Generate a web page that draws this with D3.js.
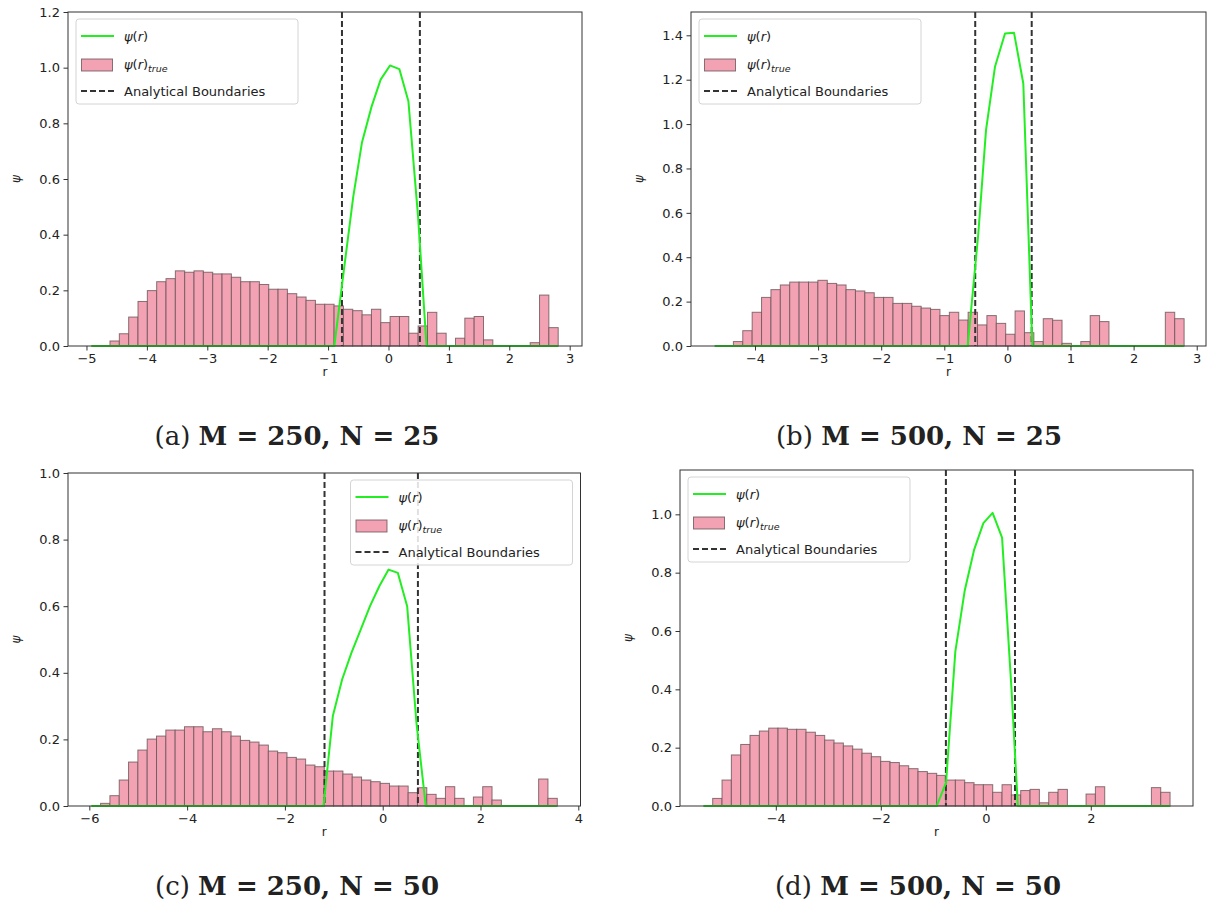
<!DOCTYPE html>
<html>
<head>
<meta charset="utf-8">
<script src="https://cdnjs.cloudflare.com/ajax/libs/d3/7.8.5/d3.min.js"></script>
<style>
  body { margin: 0; background: #fff; }
  svg text { font-family: "DejaVu Sans", sans-serif; fill: #222; }
</style>
</head>
<body>
<div id="figure"></div>
<script>
// ---------- data ----------
// histogram: 50 equal bins over histRange, heights in psi units
const histRangeA = [-4.92, 2.81];
const histA = [0, 0, 0.018, 0.044, 0.104, 0.16, 0.199, 0.231, 0.242, 0.27,
  0.265, 0.27, 0.265, 0.259, 0.259, 0.247, 0.231, 0.231, 0.221, 0.204,
  0.204, 0.188, 0.176, 0.164, 0.15, 0.15, 0.144, 0.132, 0.127, 0.112,
  0.132, 0.084, 0.106, 0.106, 0.046, 0.072, 0.121, 0.046, 0, 0.028,
  0.1, 0.106, 0.022, 0, 0, 0, 0, 0.012, 0.183, 0.066];
const lineRA = [-4.92, -0.897, -0.74, -0.583, -0.44, -0.28, -0.13, 0.025, 0.18, 0.33, 0.49, 0.63, 2.81];
const linePsiA = [0, 0, 0.27, 0.537, 0.73, 0.86, 0.957, 1.008, 0.995, 0.879, 0.465, 0, 0];
const boundsA = [-0.77, 0.52];

const histRangeB = [-4.64, 2.8];
const histB = [0, 0, 0.02, 0.069, 0.152, 0.219, 0.254, 0.275, 0.288, 0.288,
  0.288, 0.296, 0.282, 0.275, 0.254, 0.248, 0.24, 0.219, 0.219, 0.192,
  0.192, 0.179, 0.171, 0.165, 0.137, 0.152, 0.117, 0.152, 0.095, 0.137,
  0.102, 0.053, 0.158, 0.06, 0.02, 0.123, 0.116, 0.012, 0, 0.02,
  0.137, 0.11, 0, 0, 0, 0, 0, 0, 0.152, 0.123];
const lineRB = [-4.64, -0.629, -0.461, -0.339, -0.197, -0.038, 0.105, 0.252, 0.395, 2.8];
const linePsiB = [0, 0, 0.507, 0.973, 1.258, 1.408, 1.411, 1.183, 0, 0];
const boundsB = [-0.51, 0.385];

const histRangeC = [-5.96, 3.57];
const histC = [0, 0.008, 0.031, 0.078, 0.132, 0.168, 0.201, 0.21, 0.228, 0.228,
  0.238, 0.238, 0.223, 0.232, 0.223, 0.21, 0.197, 0.192, 0.183, 0.165,
  0.16, 0.146, 0.141, 0.123, 0.118, 0.105, 0.105, 0.096, 0.087, 0.078,
  0.073, 0.068, 0.06, 0.06, 0.04, 0.055, 0.035, 0.023, 0.058, 0.023,
  0, 0.027, 0.058, 0.018, 0, 0, 0, 0, 0.081, 0.023];
const lineRC = [-5.96, -1.21, -1.02, -0.83, -0.64, -0.45, -0.26, -0.07, 0.12, 0.31, 0.5, 0.69, 0.88, 3.57];
const linePsiC = [0, 0, 0.27, 0.38, 0.46, 0.53, 0.6, 0.66, 0.71, 0.7, 0.6, 0.25, 0, 0];
const boundsC = [-1.19, 0.72];

const histRangeD = [-5.38, 3.51];
const histD = [0, 0.026, 0.089, 0.175, 0.211, 0.242, 0.257, 0.267, 0.267, 0.263,
  0.263, 0.253, 0.242, 0.226, 0.216, 0.206, 0.195, 0.181, 0.169, 0.153,
  0.149, 0.138, 0.128, 0.118, 0.112, 0.105, 0.089, 0.089, 0.08, 0.073,
  0.073, 0.047, 0.073, 0.038, 0.053, 0.057, 0.011, 0.047, 0.057, 0,
  0, 0.041, 0.066, 0, 0, 0, 0, 0, 0.063, 0.047];
const lineRD = [-5.38, -0.935, -0.757, -0.58, -0.4, -0.22, -0.046, 0.13, 0.31, 0.49, 0.61, 3.51];
const linePsiD = [0, 0, 0.08, 0.53, 0.74, 0.88, 0.97, 1.005, 0.92, 0.4, 0, 0];
const boundsD = [-0.76, 0.556];

const xTicksA = [-5, -4, -3, -2, -1, 0, 1, 2, 3];
const yTicksA = [0, 0.2, 0.4, 0.6, 0.8, 1.0, 1.2];
const xTicksB = [-4, -3, -2, -1, 0, 1, 2, 3];
const yTicksB = [0, 0.2, 0.4, 0.6, 0.8, 1.0, 1.2, 1.4];
const xTicksC = [-6, -4, -2, 0, 2, 4];
const yTicksC = [0, 0.2, 0.4, 0.6, 0.8, 1.0];
const xTicksD = [-4, -2, 0, 2];
const yTicksD = [0, 0.2, 0.4, 0.6, 0.8, 1.0];

const captionTags = ["(a)", "(b)", "(c)", "(d)"];
const captionBold = ["M = 250, N = 25", "M = 500, N = 25", "M = 250, N = 50", "M = 500, N = 50"];

// ---------- layout ----------
const panels = [
  { hist: histA, histRange: histRangeA, lineR: lineRA, linePsi: linePsiA, bounds: boundsA,
    xTicks: xTicksA, yTicks: yTicksA, xDomain: [-5.306, 3.204], yDomain: [0, 1.2],
    left: 68, right: 582, top: 12, bottom: 346, legend: "left", capX: 297, capY: 445 },
  { hist: histB, histRange: histRangeB, lineR: lineRB, linePsi: linePsiB, bounds: boundsB,
    xTicks: xTicksB, yTicks: yTicksB, xDomain: [-5.014, 3.147], yDomain: [0, 1.505],
    left: 691, right: 1206, top: 12, bottom: 346, legend: "left", capX: 919, capY: 445 },
  { hist: histC, histRange: histRangeC, lineR: lineRC, linePsi: linePsiC, bounds: boundsC,
    xTicks: xTicksC, yTicks: yTicksC, xDomain: [-6.436, 4.045], yDomain: [0, 1.0],
    left: 68, right: 580.5, top: 473, bottom: 806, legend: "right", capX: 297, capY: 895 },
  { hist: histD, histRange: histRangeD, lineR: lineRD, linePsi: linePsiD, bounds: boundsD,
    xTicks: xTicksD, yTicks: yTicksD, xDomain: [-5.825, 3.947], yDomain: [0, 1.152],
    left: 680, right: 1193, top: 470, bottom: 806, legend: "left", capX: 918, capY: 895 },
];

const barFill = "#f2a2b2";
const barEdge = "#6a5458";
const green = "#22ee22";
const dashCol = "#333333";

const svg = d3.select("#figure").append("svg")
  .attr("width", 1218).attr("height", 914)
  .style("background", "#fff");

function psiLabel(sel, withSub) {
  sel.append("tspan").attr("font-style", "italic").text("ψ");
  sel.append("tspan").text("(");
  sel.append("tspan").attr("font-style", "italic").text("r");
  sel.append("tspan").text(")");
  if (withSub) {
    sel.append("tspan").attr("font-style", "italic").attr("font-size", 9.5)
      .attr("dy", 3).text("true");
  }
}

function drawPanel(p, idx) {
  const x = d3.scaleLinear(p.xDomain, [p.left, p.right]);
  const y = d3.scaleLinear(p.yDomain, [p.bottom, p.top]);
  const g = svg.append("g");

  const n = p.hist.length;
  const edge = (i) => p.histRange[0] + (p.histRange[1] - p.histRange[0]) * i / n;

  g.append("g").selectAll("rect")
    .data(p.hist)
    .join("rect")
    .attr("x", (d, i) => x(edge(i)))
    .attr("width", (d, i) => x(edge(i + 1)) - x(edge(i)))
    .attr("y", (d) => y(d))
    .attr("height", (d) => y(0) - y(d))
    .attr("fill", barFill)
    .attr("stroke", barEdge)
    .attr("stroke-opacity", 0.8)
    .attr("stroke-width", 1);

  // analytical boundaries
  g.append("g").selectAll("line")
    .data(p.bounds)
    .join("line")
    .attr("x1", (d) => x(d)).attr("x2", (d) => x(d))
    .attr("y1", p.top).attr("y2", p.bottom)
    .attr("stroke", dashCol)
    .attr("stroke-width", 2)
    .attr("stroke-dasharray", "6,3");

  // psi(r)
  const pts = p.lineR.map((r, i) => [r, p.linePsi[i]]);
  g.append("path")
    .datum(pts)
    .attr("fill", "none")
    .attr("stroke", green)
    .attr("stroke-width", 2)
    .attr("stroke-linejoin", "round")
    .attr("d", d3.line().x((d) => x(d[0])).y((d) => y(d[1])));

  // axes
  const ax = g.append("g")
    .attr("transform", `translate(0,${p.bottom})`)
    .call(d3.axisBottom(x).tickValues(p.xTicks).tickSize(4.5).tickPadding(3.5).tickFormat(d3.format("d")));
  const ay = g.append("g")
    .attr("transform", `translate(${p.left},0)`)
    .call(d3.axisLeft(y).tickValues(p.yTicks).tickSize(4.5).tickPadding(3.5).tickFormat(d3.format(".1f")));
  [ax, ay].forEach((a) => {
    a.select(".domain").remove();
    a.selectAll("line").attr("stroke", "#333");
    a.selectAll("text").attr("font-size", 13).attr("fill", "#222")
      .style("font-family", "'DejaVu Sans', sans-serif");
  });

  g.append("rect")
    .attr("x", p.left).attr("y", p.top)
    .attr("width", p.right - p.left).attr("height", p.bottom - p.top)
    .attr("fill", "none").attr("stroke", "#333").attr("stroke-width", 1);

  g.append("text")
    .attr("x", (p.left + p.right) / 2).attr("y", p.bottom + 30)
    .attr("text-anchor", "middle").attr("font-size", 12).text("r");
  g.append("text")
    .attr("transform", `translate(${p.left - 48},${(p.top + p.bottom) / 2}) rotate(-90)`)
    .attr("text-anchor", "middle").attr("font-size", 12).attr("font-style", "italic").text("ψ");

  // legend
  const lw = 222, lh = 85;
  const lx = p.legend === "left" ? p.left + 8 : p.right - 8 - lw;
  const ly = p.top + 7;
  const lg = g.append("g").attr("transform", `translate(${lx},${ly})`);
  lg.append("rect").attr("width", lw).attr("height", lh).attr("rx", 3)
    .attr("fill", "#fff").attr("fill-opacity", 0.85)
    .attr("stroke", "#d4d4d4").attr("stroke-width", 1);
  lg.append("line").attr("x1", 5).attr("x2", 38).attr("y1", 17).attr("y2", 17)
    .attr("stroke", green).attr("stroke-width", 2);
  psiLabel(lg.append("text").attr("x", 48).attr("y", 22).attr("font-size", 13), false);
  lg.append("rect").attr("x", 5.5).attr("y", 40).attr("width", 31).attr("height", 12)
    .attr("fill", barFill).attr("stroke", barEdge).attr("stroke-opacity", 0.8);
  psiLabel(lg.append("text").attr("x", 48).attr("y", 50).attr("font-size", 13), true);
  lg.append("line").attr("x1", 5).attr("x2", 38).attr("y1", 72).attr("y2", 72)
    .attr("stroke", dashCol).attr("stroke-width", 2).attr("stroke-dasharray", "6,3");
  lg.append("text").attr("x", 48).attr("y", 77).attr("font-size", 13).text("Analytical Boundaries");

  // caption
  const cap = svg.append("text")
    .attr("x", p.capX).attr("y", p.capY)
    .attr("text-anchor", "middle")
    .attr("font-size", 26)
    .style("font-family", "'DejaVu Serif', serif")
    .attr("fill", "#000");
  cap.append("tspan").text(captionTags[idx] + " ");
  cap.append("tspan").attr("font-weight", "bold").text(captionBold[idx]);
}

panels.forEach((p, i) => drawPanel(p, i));
</script>
</body>
</html>
